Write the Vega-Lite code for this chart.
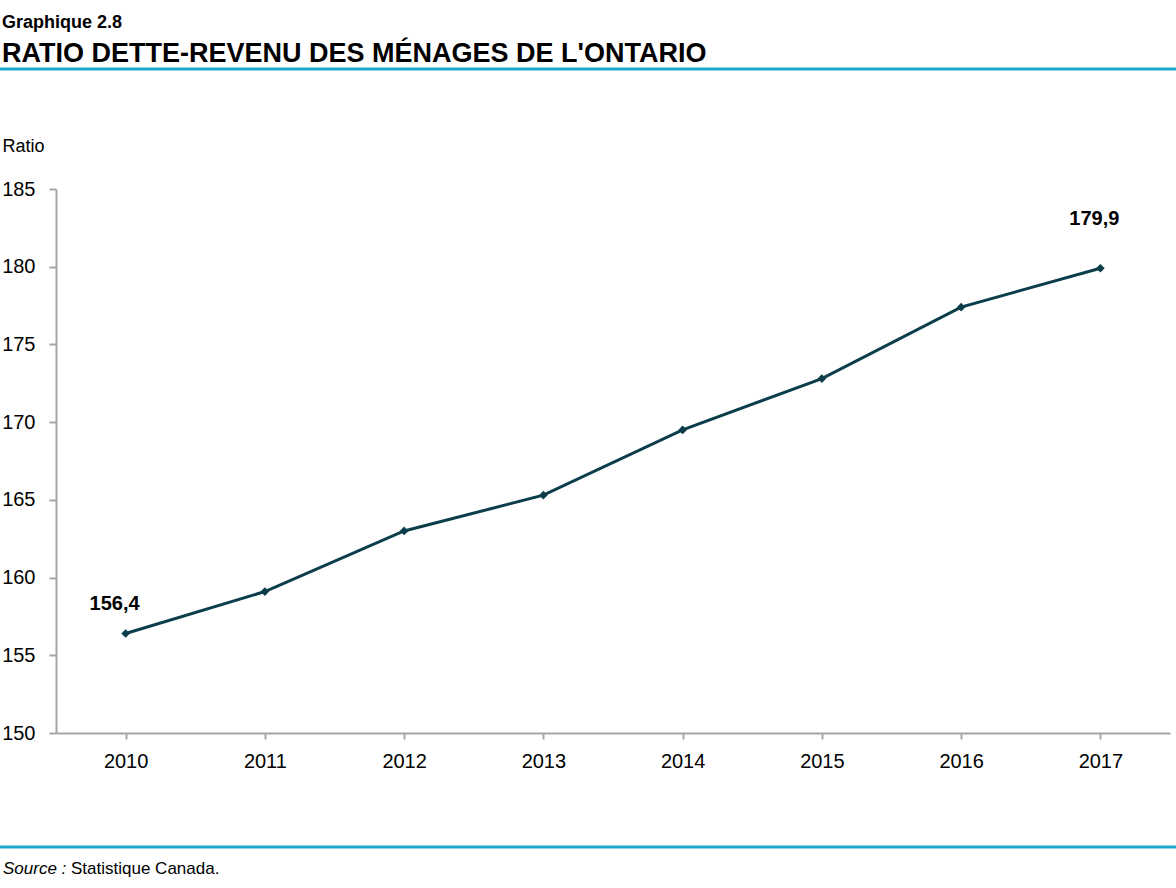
{
  "$schema": "https://vega.github.io/schema/vega-lite/v6.json",
  "width": 1114,
  "height": 544,
  "autosize": {"type": "none"},
  "padding": {"left": 56, "top": 189, "right": 6, "bottom": 155},
  "background": "white",
  "config": {
    "view": {"stroke": null},
    "font": "Liberation Sans, Arial, sans-serif",
    "locale": {"number": {"decimal": ",", "thousands": "\u00a0", "grouping": [3], "currency": ["", " $"]}}
  },
  "title": {
    "text": "Graphique 2.8",
    "subtitle": "RATIO DETTE-REVENU DES MÉNAGES DE L'ONTARIO",
    "anchor": "start",
    "frame": "group",
    "dx": -54,
    "offset": 1,
    "font": "Liberation Sans, Arial, sans-serif",
    "fontSize": 18,
    "fontWeight": "bold",
    "color": "#000000",
    "subtitleFont": "Liberation Sans, Arial, sans-serif",
    "subtitleFontSize": 27,
    "subtitleFontWeight": "bold",
    "subtitleColor": "#000000",
    "subtitlePadding": 9
  },
  "data": {
    "values": [
      {"year": "2010", "ratio": 156.4},
      {"year": "2011", "ratio": 159.1},
      {"year": "2012", "ratio": 163.0},
      {"year": "2013", "ratio": 165.3},
      {"year": "2014", "ratio": 169.5},
      {"year": "2015", "ratio": 172.8},
      {"year": "2016", "ratio": 177.4},
      {"year": "2017", "ratio": 179.9}
    ]
  },
  "encoding": {
    "x": {
      "field": "year",
      "type": "ordinal",
      "scale": {"type": "point", "padding": 0.5},
      "axis": {
        "title": null,
        "labelAngle": 0,
        "labelFontSize": 20,
        "labelColor": "#000000",
        "labelPadding": 12,
        "domainColor": "#A6A6A6",
        "domainWidth": 2,
        "tickColor": "#A6A6A6",
        "tickWidth": 2,
        "tickSize": 6,
        "grid": false
      }
    },
    "y": {
      "field": "ratio",
      "type": "quantitative",
      "scale": {"domain": [150, 185], "nice": false, "zero": false},
      "axis": {
        "title": "Ratio",
        "titleAngle": 0,
        "titleAlign": "left",
        "titleBaseline": "alphabetic",
        "titleX": -54,
        "titleY": -38,
        "titleFontSize": 18,
        "titleFontWeight": "normal",
        "titleColor": "#000000",
        "values": [150, 155, 160, 165, 170, 175, 180, 185],
        "labelFontSize": 20,
        "labelColor": "#000000",
        "labelPadding": 14,
        "domainColor": "#A6A6A6",
        "domainWidth": 2,
        "tickColor": "#A6A6A6",
        "tickWidth": 2,
        "tickSize": 7,
        "grid": false
      }
    }
  },
  "layer": [
    {"mark": {"type": "line", "color": "#0B3D4B", "strokeWidth": 3}},
    {"mark": {"type": "point", "shape": "diamond", "filled": true, "size": 75, "color": "#0B3D4B", "opacity": 1}},
    {
      "transform": [{"filter": "datum.year == '2010'"}],
      "mark": {"type": "text", "fontSize": 20, "fontWeight": "bold", "color": "#000000", "baseline": "alphabetic", "dx": -11, "dy": -24},
      "encoding": {"text": {"field": "ratio", "type": "quantitative", "format": ".1f"}}
    },
    {
      "transform": [{"filter": "datum.year == '2017'"}],
      "mark": {"type": "text", "fontSize": 20, "fontWeight": "bold", "color": "#000000", "baseline": "alphabetic", "dx": -6, "dy": -43},
      "encoding": {"text": {"field": "ratio", "type": "quantitative", "format": ".1f"}}
    },
    {
      "data": {"values": [{"src": "Source :", "txt": "Statistique Canada."}]},
      "layer": [
        {
          "mark": {"type": "rule", "color": "#1BA9CE", "strokeWidth": 3},
          "encoding": {"x": {"value": -56}, "x2": {"value": 1120}, "y": {"value": -120}}
        },
        {
          "mark": {"type": "rule", "color": "#1BA9CE", "strokeWidth": 3},
          "encoding": {"x": {"value": -56}, "x2": {"value": 1120}, "y": {"value": 658}}
        },
        {
          "mark": {"type": "text", "fontSize": 17, "fontStyle": "italic", "align": "left", "baseline": "alphabetic", "color": "#000000"},
          "encoding": {"x": {"value": -53}, "y": {"value": 685}, "text": {"field": "src"}}
        },
        {
          "mark": {"type": "text", "fontSize": 17, "align": "left", "baseline": "alphabetic", "color": "#000000"},
          "encoding": {"x": {"value": 15}, "y": {"value": 685}, "text": {"field": "txt"}}
        }
      ]
    }
  ]
}
